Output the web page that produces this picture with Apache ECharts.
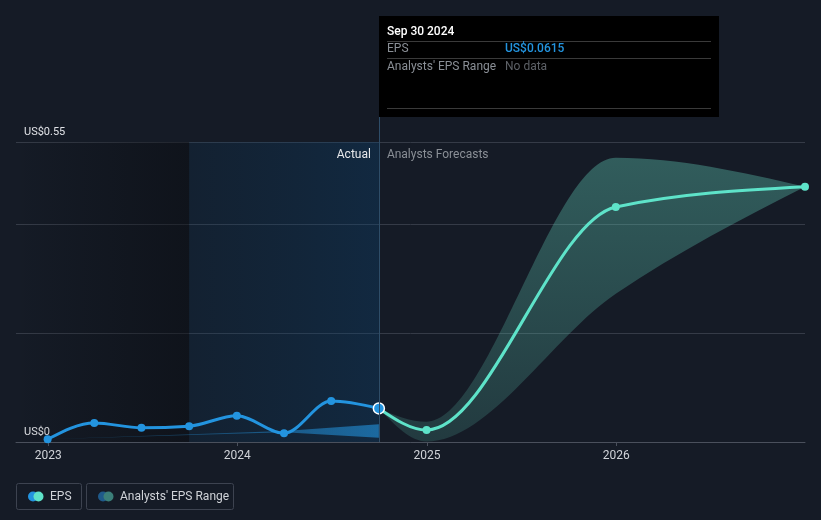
<!DOCTYPE html>
<html><head><meta charset="utf-8">
<script src="https://cdn.jsdelivr.net/npm/echarts@6/dist/echarts.min.js"></script>
<style>html,body{margin:0;padding:0;background:#151b26;}#c{width:821px;height:520px;}</style>
</head><body><div id="c"></div>
<script>
// ---- data ----
const actualDates = ['2022-12-31','2023-03-31','2023-06-30','2023-09-30','2023-12-31','2024-03-31','2024-06-30','2024-09-30'];
const actualEps = [0.005,0.035,0.026,0.029,0.048,0.016,0.075,0.0615];
const forecastDates = ['2024-09-30','2024-12-31','2025-12-31','2026-12-31'];
const forecastEps = [0.0615,0.022,0.431,0.468];
const rangeLow = [0.0615,0.001,0.272,0.468];
const rangeHigh = [0.0615,0.037,0.521,0.468];
const pastRangeDates = ['2022-12-31','2024-03-31','2024-09-30'];
const pastRangeLow = [0.005,0.018,0.008];
const pastRangeHigh = [0.005,0.020,0.0325];
const yearTicks = ['2023-01-01','2024-01-01','2025-01-01','2026-01-01'];
const yTickLabels = {'0':'US$0','0.55':'US$0.55'};
const axisStart = '2022-10-31', axisEnd = '2026-12-31';
const highlightStart = '2023-09-30', highlightEnd = '2024-09-30';
const tipDate = 'Sep 30 2024', tipEps = 'US$0.0615', tipRange = 'No data';

const T = s => new Date(s + 'T00:00:00').getTime();
const pair = (ds, vs) => ds.map((d, i) => [T(d), vs[i]]);
const FONT = 'Roboto, "Noto Sans", sans-serif';
const G = echarts.graphic;

// monotone cubic (x-monotone) bezier segments in pixel space
const sgn = x => x < 0 ? -1 : 1;
function monoSegs(P) {
  const n = P.length, t = new Array(n), segs = [];
  if (n < 2) return segs;
  if (n === 2) return [[P[0], P[0], P[1], P[1]]];
  for (let i = 1; i < n - 1; i++) {
    const h0 = P[i][0] - P[i-1][0], h1 = P[i+1][0] - P[i][0];
    const s0 = (P[i][1] - P[i-1][1]) / h0, s1 = (P[i+1][1] - P[i][1]) / h1;
    const p = (s0 * h1 + s1 * h0) / (h0 + h1);
    t[i] = (sgn(s0) + sgn(s1)) * Math.min(Math.abs(s0), Math.abs(s1), 0.5 * Math.abs(p)) || 0;
  }
  t[0] = (3 * (P[1][1] - P[0][1]) / (P[1][0] - P[0][0]) - t[1]) / 2;
  t[n-1] = (3 * (P[n-1][1] - P[n-2][1]) / (P[n-1][0] - P[n-2][0]) - t[n-2]) / 2;
  for (let i = 0; i < n - 1; i++) {
    const [x0, y0] = P[i], [x1, y1] = P[i+1], dx = (x1 - x0) / 3;
    segs.push([P[i], [x0 + dx, y0 + dx * t[i]], [x1 - dx, y1 - dx * t[i+1]], P[i+1]]);
  }
  return segs;
}
const f = v => v.toFixed(2);
const segPath = segs => segs.map(s => 'C' + f(s[1][0]) + ' ' + f(s[1][1]) + ' ' + f(s[2][0]) + ' ' + f(s[2][1]) + ' ' + f(s[3][0]) + ' ' + f(s[3][1])).join(' ');
const revSegs = segs => segs.slice().reverse().map(s => [s[3], s[2], s[1], s[0]]);

function curveSeries(dates, vals, color, z) {
  return {
    type: 'custom', z, silent: true, data: pair(dates, vals), encode: {x: 0, y: 1},
    renderItem: (params, api) => {
      if (params.dataIndex !== 0) return null;
      const P = dates.map((d, i) => api.coord([T(d), vals[i]]));
      const d = 'M' + f(P[0][0]) + ' ' + f(P[0][1]) + ' ' + segPath(monoSegs(P));
      return {type: 'path', shape: {pathData: d}, style: {fill: 'none', stroke: color, lineWidth: 3, lineJoin: 'round', lineCap: 'round'}};
    }
  };
}

const chart = echarts.init(document.getElementById('c'), null, {renderer: 'canvas'});

const option = {
  backgroundColor: '#151b26',
  animation: false,
  grid: {left: 16, right: 16, top: 142, bottom: 78, containLabel: false},
  xAxis: {
    type: 'value', min: T(axisStart), max: T(axisEnd),
    axisLine: {show: true, lineStyle: {color: '#4a505c', width: 1}},
    axisTick: {show: true, customValues: yearTicks.map(T), length: 4, lineStyle: {color: '#4a505c'}},
    axisLabel: {customValues: yearTicks.map(T), color: '#d0d3d8', fontSize: 12, fontFamily: FONT, margin: 8,
      formatter: v => String(new Date(v).getFullYear())},
    splitLine: {show: false}
  },
  yAxis: {
    type: 'value', min: 0, max: 0.55, interval: 0.2,
    axisLine: {show: false}, axisTick: {show: false},
    splitLine: {show: true, lineStyle: {color: '#353b47', width: 1}},
    axisLabel: {inside: true, margin: 8, color: '#e0e2e6', fontSize: 11, fontFamily: FONT,
      verticalAlign: 'bottom', padding: [0, 0, 4, 0],
      formatter: v => yTickLabels[String(+(+v).toFixed(4))] || ''}
  },
  series: [
    { // past analysts' range (thin wedge) + background regions
      type: 'custom', z: 2, silent: true, data: pair(pastRangeDates, pastRangeHigh), encode: {x: 0, y: 1},
      renderItem: (params, api) => {
        if (params.dataIndex !== 0) return null;
        const up = pastRangeDates.map((d, i) => api.coord([T(d), pastRangeHigh[i]]));
        const lo = pastRangeDates.map((d, i) => api.coord([T(d), pastRangeLow[i]])).reverse();
        return {type: 'polygon', shape: {points: up.concat(lo)},
          style: {fill: new G.LinearGradient(0, 0, 1, 0, [
            {offset: 0, color: 'rgba(35,148,223,0.2)'}, {offset: 1, color: 'rgba(35,148,223,0.6)'}])}};
      },
      markArea: {silent: true, z: 1, data: [
        [{xAxis: T(axisStart), itemStyle: {color: new G.LinearGradient(0, 0, 1, 0, [
            {offset: 0, color: 'rgba(8,10,14,0)'}, {offset: 1, color: 'rgba(8,10,14,0.45)'}])}},
         {xAxis: T(highlightStart)}],
        [{xAxis: T(highlightStart), itemStyle: {color: new G.LinearGradient(0, 0, 1, 0, [
            {offset: 0, color: 'rgba(10,60,100,0.18)'}, {offset: 1, color: 'rgba(10,70,120,0.32)'}])}},
         {xAxis: T(highlightEnd)}]
      ]}
    },
    { // forecast analysts' range band
      type: 'custom', z: 2, silent: true, data: pair(forecastDates, rangeHigh), encode: {x: 0, y: 1},
      renderItem: (params, api) => {
        if (params.dataIndex !== 0) return null;
        const up = forecastDates.map((d, i) => api.coord([T(d), rangeHigh[i]]));
        const lo = forecastDates.map((d, i) => api.coord([T(d), rangeLow[i]]));
        const lr = revSegs(monoSegs(lo));
        const d = 'M' + f(up[0][0]) + ' ' + f(up[0][1]) + ' ' + segPath(monoSegs(up)) +
          ' L' + f(lo[lo.length-1][0]) + ' ' + f(lo[lo.length-1][1]) + ' ' + segPath(lr) + ' Z';
        return {type: 'path', shape: {pathData: d}, style: {fill: new G.LinearGradient(0, 0, 0, 1, [
          {offset: 0, color: 'rgba(95,200,180,0.38)'}, {offset: 1, color: 'rgba(95,200,180,0.18)'}])}};
      }
    },
    curveSeries(forecastDates, forecastEps, '#5ee3c9', 3),
    curveSeries(actualDates, actualEps, '#2394df', 4),
    {
      type: 'scatter', z: 5, silent: true, symbol: 'circle', symbolSize: 8,
      data: pair(forecastDates.slice(1), forecastEps.slice(1)), itemStyle: {color: '#5ee3c9', opacity: 1}
    },
    {
      type: 'scatter', z: 6, silent: true, symbol: 'circle', symbolSize: 8,
      data: pair(actualDates, actualEps).map((p, i, a) => i === a.length - 1 ?
        {value: p, symbolSize: 11, itemStyle: {color: '#2394df', borderColor: '#ffffff', borderWidth: 1.5}} : p),
      itemStyle: {color: '#2394df', opacity: 1}
    }
  ]
};
chart.setOption(option);

const px = (d, v) => chart.convertToPixel({gridIndex: 0}, [T(d), v]);
const [xs, y0] = px(highlightEnd, 0);
const yTop = px(highlightEnd, 0.55)[1];
const tipX = Math.round(xs), tipY = 16, tipW = 340, tipH = 101;
const txt = (x, y, text, fill, size, weight, align) => ({type: 'text', x, y, silent: true,
  style: {text, fill, fontSize: size, fontFamily: FONT, fontWeight: weight || 'normal', align: align || 'left', verticalAlign: 'middle'}});
const hline = (x1, x2, y, c) => ({type: 'line', silent: true, shape: {x1, y1: y + 0.5, x2, y2: y + 0.5}, style: {stroke: c, lineWidth: 1}});

const graphics = [
  {type: 'line', silent: true, z: 50, shape: {x1: tipX + 0.5, y1: tipY + tipH, x2: tipX + 0.5, y2: y0}, style: {stroke: '#2e4d68', lineWidth: 1}},
  {type: 'rect', silent: true, z: 60, shape: {x: tipX, y: tipY, width: tipW, height: tipH}, style: {fill: '#000000'}},
  Object.assign(txt(tipX + 8, tipY + 16, tipDate, '#ffffff', 12, '500'), {z: 61}),
  Object.assign(hline(tipX + 8, tipX + tipW - 8, tipY + 25, '#3a3a3a'), {z: 61}),
  Object.assign(txt(tipX + 8, tipY + 33, 'EPS', '#8a8f96', 12), {z: 61}),
  Object.assign(txt(tipX + 126, tipY + 33, tipEps, '#2394df', 12, '500'), {z: 61}),
  Object.assign(hline(tipX + 8, tipX + tipW - 8, tipY + 42, '#3a3a3a'), {z: 61}),
  Object.assign(txt(tipX + 8, tipY + 51, "Analysts' EPS Range", '#8a8f96', 12), {z: 61}),
  Object.assign(txt(tipX + 126, tipY + 51, tipRange, '#5d6167', 12), {z: 61}),
  Object.assign(hline(tipX + 8, tipX + tipW - 8, tipY + 92, '#3a3a3a'), {z: 61}),
  Object.assign(txt(xs - 8, yTop + 13, 'Actual', '#e6e8eb', 12, 'normal', 'right'), {z: 61}),
  Object.assign(txt(xs + 8, yTop + 13, 'Analysts Forecasts', '#8a8f96', 12), {z: 61}),
  // legend
  {type: 'rect', silent: true, shape: {x: 16.5, y: 483.5, width: 65, height: 26, r: 2}, style: {fill: 'none', stroke: '#3d4350', lineWidth: 1}},
  {type: 'circle', silent: true, shape: {cx: 33, cy: 496.5, r: 5}, style: {fill: '#2394df'}},
  {type: 'circle', silent: true, shape: {cx: 38.5, cy: 496.5, r: 5}, style: {fill: '#5ee3c9'}},
  txt(50, 497, 'EPS', '#d0d3d8', 12),
  {type: 'rect', silent: true, shape: {x: 86.5, y: 483.5, width: 147, height: 26, r: 2}, style: {fill: 'none', stroke: '#3d4350', lineWidth: 1}},
  {type: 'circle', silent: true, shape: {cx: 103, cy: 496.5, r: 5}, style: {fill: '#1f5a8a'}},
  {type: 'circle', silent: true, shape: {cx: 108.5, cy: 496.5, r: 5}, style: {fill: '#3b7f79'}},
  txt(120, 497, "Analysts' EPS Range", '#d0d3d8', 12)
];
chart.setOption({graphic: {elements: graphics}});
</script></body></html>
